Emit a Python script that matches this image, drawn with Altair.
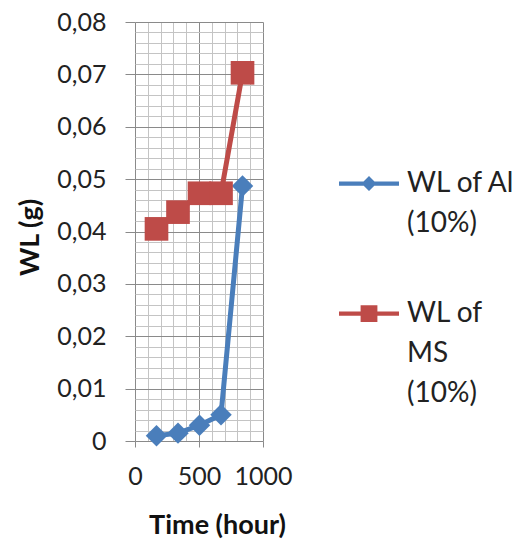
import altair as alt
import pandas as pd

# ---- data ----
time_hours = [168, 336, 504, 672, 840]
wl_al = [0.001, 0.0015, 0.003, 0.005, 0.0487]
wl_ms = [0.0405, 0.0437, 0.0473, 0.0473, 0.0703]
series_names = ["WL of Al (10%)", "WL of MS (10%)"]
series_colors = ["#4A7EBB", "#BE4B48"]
x_major = [0, 500, 1000]
x_minor = [100, 200, 300, 400, 600, 700, 800, 900]
y_major = [0, 0.01, 0.02, 0.03, 0.04, 0.05, 0.06, 0.07, 0.08]
y_minor = [round(i * 0.002, 3) for i in range(41) if i % 5]

rows = []
for t, v in zip(time_hours, wl_al):
    rows.append({"time": t, "wl": v, "series": series_names[0]})
for t, v in zip(time_hours, wl_ms):
    rows.append({"time": t, "wl": v, "series": series_names[1]})
df = pd.DataFrame(rows)

FONT = "Lato"
FS = 25
MAJOR = "#8a8a8a"
MINOR = "#c4c4c4"
TEXT = "#222222"

xscale = alt.Scale(domain=[0, 1000], nice=False, zero=False)
yscale = alt.Scale(domain=[0, 0.08], nice=False)
cscale = alt.Scale(domain=series_names, range=series_colors)

# legend symbols: line segment with marker, drawn slightly above the entry centre
path_al = "M-1,-0.35H1V-0.21H-1Z M0,-0.53L0.25,-0.28L0,-0.03L-0.25,-0.28Z"
path_ms = "M-1,-0.35H1V-0.21H-1Z M-0.28,-0.56H0.28V0H-0.28Z"
sscale = alt.Scale(domain=series_names, range=[path_al, path_ms])

label_expr = ("datum.label == 'WL of Al (10%)' ? ['WL of Al', '(10%)'] "
              ": ['WL of', 'MS', '(10%)']")

common = dict(labelFont=FONT, labelFontSize=FS, labelColor=TEXT,
              titleFont=FONT, titleFontSize=27, titleFontWeight="bold",
              titleColor="#111111", gridWidth=1, gridOpacity=1,
              labelFlush=False, labelOverlap=False)

minor_x = alt.Axis(values=x_minor, grid=True, gridColor=MINOR, labels=False,
                   ticks=False, domain=False, title=None, orient="bottom")
minor_y = alt.Axis(values=y_minor, grid=True, gridColor=MINOR, labels=False,
                   ticks=False, domain=False, title=None, orient="left")
major_x = alt.Axis(values=x_major, grid=True, gridColor=MAJOR, domain=False,
                   ticks=True, tickColor=MAJOR, tickSize=6, labelPadding=17,
                   format="d",
                   title="Time (hour)", titleX=82, titleY=84,
                   titleBaseline="middle", titleAlign="center",
                   orient="bottom", **common)
major_y = alt.Axis(values=y_major, grid=True, gridColor=MAJOR, domain=False,
                   ticks=True, tickColor=MAJOR, tickSize=10, labelPadding=19,
                   labelExpr="datum.value == 0 ? '0' : replace(format(datum.value, '.2f'), '.', ',')",
                   title="WL (g)", titleX=-105, titleY=215, titleAngle=270,
                   titleBaseline="middle", titleAlign="center",
                   orient="left", **common)

legend = alt.Legend(
    title=None, orient="none", legendX=204, legendY=140,
    symbolSize=3600, symbolStrokeWidth=0, labelOffset=8,
    labelExpr=label_expr, labelLimit=300, labelBaseline="alphabetic",
    labelFont=FONT, labelFontSize=28, labelColor=TEXT,
    rowPadding=54, padding=0,
)

legend_layer = alt.Chart(df).mark_point(filled=True, opacity=1).encode(
    x=alt.X("time:Q", scale=xscale, axis=None),
    y=alt.Y("wl:Q", scale=yscale, axis=None),
    color=alt.Color("series:N", scale=cscale, legend=legend),
    shape=alt.Shape("series:N", scale=sscale, legend=legend),
).transform_filter("datum.time > 5000")

lines = alt.Chart(df).mark_line(strokeWidth=5).encode(
    x=alt.X("time:Q", scale=xscale, axis=minor_x),
    y=alt.Y("wl:Q", scale=yscale, axis=minor_y),
    color=alt.Color("series:N", scale=cscale, legend=None),
    detail="series:N",
)
diamonds = alt.Chart(df).mark_point(shape="diamond", filled=True, size=460,
                                    opacity=1, strokeWidth=0).encode(
    x=alt.X("time:Q", scale=xscale, axis=major_x),
    y=alt.Y("wl:Q", scale=yscale, axis=major_y),
    color=alt.Color("series:N", scale=cscale, legend=None),
).transform_filter(alt.datum.series == series_names[0])
squares = alt.Chart(df).mark_point(shape="square", filled=True, size=560,
                                   opacity=1, strokeWidth=0).encode(
    x=alt.X("time:Q", scale=xscale, axis=None),
    y=alt.Y("wl:Q", scale=yscale, axis=None),
    color=alt.Color("series:N", scale=cscale, legend=None),
).transform_filter(alt.datum.series == series_names[1])

chart = alt.layer(legend_layer, lines, diamonds, squares).resolve_axis(
    x="independent", y="independent"
).properties(
    width=128, height=419,
    autosize=alt.AutoSizeParams(type="none"),
    padding={"left": 135, "top": 22, "right": 251, "bottom": 103},
    background="white",
).configure(
    style={"guide-label": {"lineHeight": 40}}
).configure_view(stroke=None)

chart.save("out.html", embed_options={"renderer": "svg", "actions": False})
